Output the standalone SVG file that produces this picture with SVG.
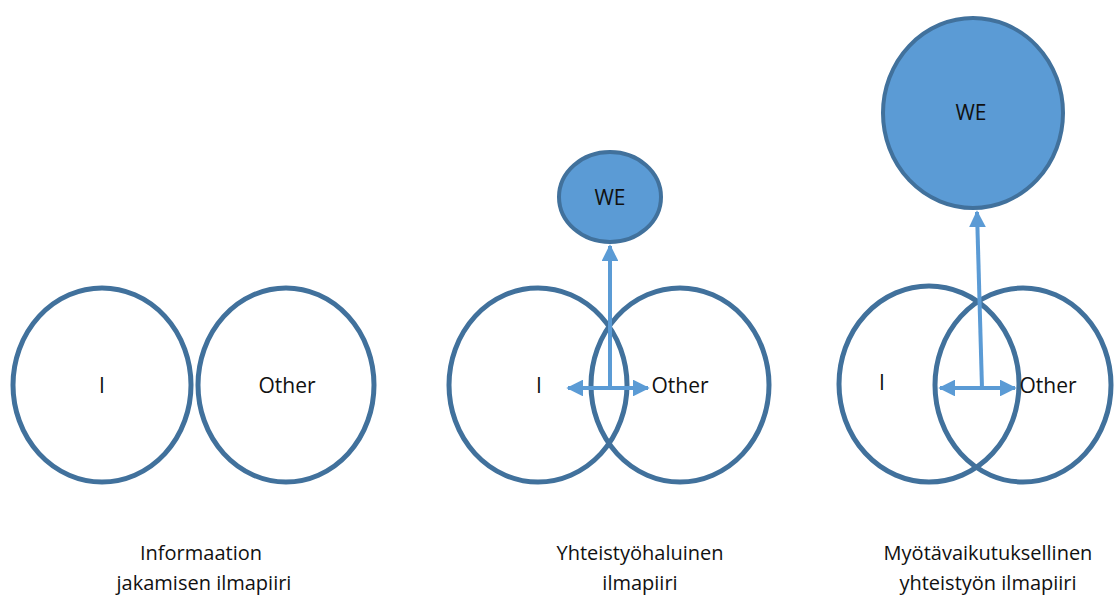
<svg xmlns="http://www.w3.org/2000/svg" width="1118" height="596" viewBox="0 0 1118 596">
<style>
.ring{fill:#fff;fill-opacity:0;stroke:#41719C;stroke-width:5}
.we{fill:#5B9BD5;stroke:#41719C;stroke-width:4}
.lbl{font-family:"Open Sans","Liberation Sans",sans-serif;font-size:21px;fill:#111;text-anchor:middle}
.cap{font-family:"Open Sans","Liberation Sans",sans-serif;font-size:20px;fill:#111;text-anchor:middle}
.arr{stroke:#5B9BD5;stroke-width:4;fill:none;marker-end:url(#ah)}
.both{marker-start:url(#ah)}
</style>
<defs>
<marker id="ah" viewBox="0 0 10 10" refX="9" refY="5" markerWidth="4.2" markerHeight="4.2" orient="auto-start-reverse" markerUnits="strokeWidth">
<path d="M0,0 L10,5 L0,10 Z" fill="#5B9BD5"/>
</marker>
</defs>
<rect width="1118" height="596" fill="#fff"/>
<g id="g1-I"><ellipse class="ring" cx="102" cy="385" rx="89" ry="97"/><text class="lbl" x="102" y="393">I</text></g>
<g id="g1-Other"><ellipse class="ring" cx="286" cy="385" rx="88" ry="97"/><text class="lbl" x="287" y="393">Other</text></g>
<g id="g2-I"><ellipse class="ring" cx="538" cy="385" rx="89" ry="97"/><text class="lbl" x="539" y="393">I</text></g>
<g id="g2-Other"><ellipse class="ring" cx="680" cy="385" rx="89" ry="97"/><text class="lbl" x="680" y="393">Other</text></g>
<g id="g2-WE"><ellipse class="we" cx="610" cy="197" rx="51" ry="45"/><text class="lbl" x="610" y="205">WE</text></g>
<g id="g3-I"><ellipse class="ring" cx="929" cy="384" rx="90" ry="98"/><text class="lbl" x="882" y="390">I</text></g>
<g id="g3-Other"><ellipse class="ring" cx="1023" cy="385" rx="88" ry="97"/><text class="lbl" x="1048" y="393">Other</text></g>
<g id="g3-WE"><ellipse class="we" cx="973" cy="113" rx="90" ry="95"/><text class="lbl" x="971" y="120">WE</text></g>
<g id="connectors">
<line class="arr" x1="610" y1="388" x2="610" y2="246"/>
<line class="arr both" x1="568" y1="388" x2="648" y2="388"/>
<line class="arr" x1="982" y1="388" x2="977" y2="212"/>
<line class="arr both" x1="940" y1="388" x2="1015" y2="388"/>
</g>
<g id="captions">
<text class="cap" x="201" y="560">Informaation</text>
<text class="cap" x="204" y="590">jakamisen ilmapiiri</text>
<text class="cap" x="640" y="560">Yhteistyöhaluinen</text>
<text class="cap" x="640" y="590">ilmapiiri</text>
<text class="cap" x="988" y="560">Myötävaikutuksellinen</text>
<text class="cap" x="988" y="590">yhteistyön ilmapiiri</text>
</g>
</svg>
